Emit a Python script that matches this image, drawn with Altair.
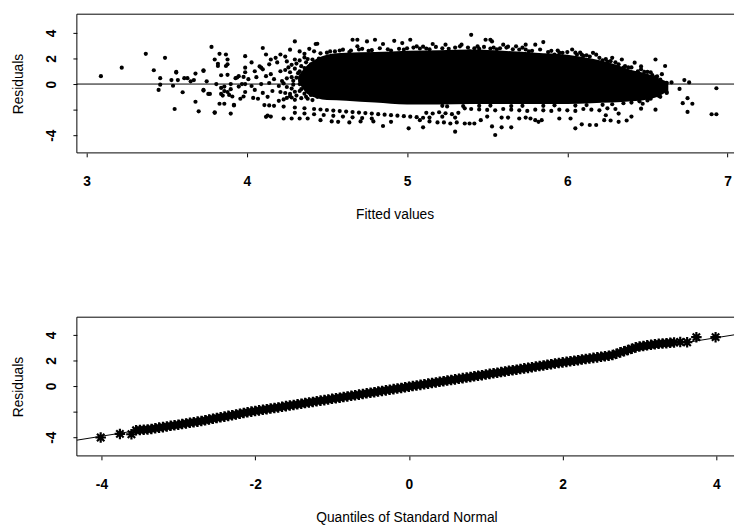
import altair as alt
import pandas as pd

FONT = "Liberation Sans"

# ---------------- top panel: residuals vs fitted values ----------------
sparse_left = [
    (3.09, 0.62), (3.22, 1.28), (3.37, 2.36), (3.49, 2.05), (3.42, 1.08), (3.45, -0.46),
    (3.46, 0.46), (3.46, -0.05), (3.53, 0.31), (3.54, -0.13), (3.55, -1.95), (3.56, 0.90),
    (3.57, 0.31), (3.60, -0.64), (3.61, 0.46), (3.63, 0.46), (3.65, 0.21), (3.67, 0.31),
    (3.68, -1.38), (3.68, 0.82), (3.70, -2.13), (3.73, 1.03), (3.73, -0.46), (3.75, 0.21),
    (3.77, -0.77), (3.78, 2.90), (3.80, -2.20), (3.80, 1.92), (3.81, 0.00), (3.82, 1.59),
    (3.83, -1.54), (3.83, 2.36), (3.84, 0.69), (3.84, -0.77), (3.86, -0.20), (3.86, -1.54),
    (3.87, 2.31), (3.87, 1.41), (3.88, 0.72), (3.89, -0.85), (3.90, -2.31), (3.90, 0.00),
    (3.91, -0.97), (3.92, -1.67), (3.93, 0.46), (3.95, -0.20), (3.96, -1.15), (3.98, 0.56),
    (3.99, 2.18), (3.99, 1.28), (3.99, 0.00), (3.98, -0.97), (3.56, 0.95), (3.73, 1.08),
    (3.73, -0.51), (3.76, -0.77), (3.82, 1.41), (3.88, 1.92), (3.88, 1.54), (3.92, -1.62),
    (3.94, 0.51), (3.80, -2.25), (3.84, -0.30), (3.86, -0.55), (3.88, -0.62), (3.90, -0.40),
    (3.85, -0.90),
]

mid_rows = [
    (4.10, 2.82), (4.12, 2.31), (4.15, 1.92), (4.21, 2.31), (4.27, 2.69), (4.30, 3.33),
    (4.36, 2.36), (4.43, 3.13), (4.42, 2.56), (4.09, 1.28),
    (4.18, 2.05), (4.24, 2.15), (4.33, 2.55), (4.39, 2.75),
    (4.03, 1.69), (4.08, 1.38), (4.14, 1.54), (4.19, 1.69), (4.25, 1.77), (4.30, 1.92),
    (4.36, 2.08), (4.41, 1.92), (4.33, 1.85), (4.38, 1.95), (4.45, 2.00),
    (3.99, 0.92), (4.05, 1.00), (4.10, 1.15), (4.15, 0.77), (4.21, 1.00), (4.27, 0.92),
    (4.33, 1.00), (4.39, 1.15), (4.44, 1.31), (4.24, 1.10), (4.30, 1.20), (4.36, 1.25),
    (4.42, 1.40),
    (3.95, 0.62), (4.01, 0.38), (4.06, 0.54), (4.12, 0.62), (4.17, 0.38), (4.22, 0.23),
    (4.28, 0.54), (4.34, 0.62), (4.41, 0.38), (4.25, 0.45), (4.31, 0.50), (4.37, 0.55),
    (4.43, 0.65),
    (3.97, 0.00), (4.03, -0.15), (4.09, 0.00), (4.14, 0.08), (4.20, -0.15), (4.25, -0.23),
    (4.33, 0.00), (4.39, -0.15), (4.45, 0.15), (4.23, 0.05), (4.29, -0.05), (4.36, 0.10),
    (4.42, -0.05),
    (3.99, -0.62), (4.05, -0.46), (4.10, -0.69), (4.16, -0.54), (4.21, -0.62), (4.27, -0.77),
    (4.33, -0.54), (4.39, -0.62), (4.24, -0.70), (4.30, -0.60), (4.36, -0.75), (4.42, -0.55),
    (4.04, -1.08), (4.07, -1.15), (4.13, -1.00), (4.20, -1.31), (4.25, -1.08), (4.30, -1.23),
    (4.38, -1.15), (4.44, -1.00), (4.23, -1.20), (4.28, -1.05), (4.34, -1.10), (4.41, -1.25),
    (4.12, -2.56), (4.15, -2.54), (4.23, -2.69), (4.28, -2.69), (4.33, -2.69), (4.38, -2.69),
    (4.13, -2.46),
    (4.28, 1.50), (4.31, 1.60), (4.34, 1.40), (4.37, 1.70), (4.40, 1.55), (4.28, -0.35),
    (4.31, -0.90), (4.34, -0.40), (4.37, -1.00), (4.40, -0.85), (4.29, 0.25), (4.32, 0.85),
    (4.35, 0.30), (4.38, 0.80), (4.26, 1.30), (4.27, -0.95),
]

band_a = [
    (4.11, -1.64), (4.14, -1.67), (4.17, -1.70), (4.23, -1.76), (4.30, -1.83), (4.36, -1.89),
    (4.42, -1.95), (4.46, -1.99), (4.50, -2.03), (4.54, -2.07), (4.58, -2.11), (4.62, -2.15),
    (4.66, -2.19), (4.70, -2.23), (4.74, -2.27), (4.78, -2.31), (4.82, -2.35), (4.86, -2.39),
    (4.90, -2.43), (4.94, -2.47), (4.98, -2.51), (5.02, -2.55), (5.06, -2.59), (5.10, -2.63),
    (4.30, -2.25), (4.36, -2.30), (4.42, -2.36), (4.48, -2.42), (4.54, -2.48), (4.60, -2.54),
    (4.66, -2.60), (4.72, -2.66), (4.78, -2.70),
]

band_b = [
    (5.12, -2.25), (5.16, -2.30), (5.20, -2.20), (5.24, -2.28), (5.28, -2.35), (5.32, -2.25),
    (5.14, -2.62), (5.22, -2.55), (5.30, -2.62),
    (5.36, -1.90), (5.40, -1.95), (5.45, -1.98), (5.50, -2.02), (5.55, -2.05), (5.60, -1.95),
    (5.65, -2.00), (5.70, -2.05), (5.75, -2.10), (5.80, -2.00), (5.85, -2.05), (5.90, -2.10),
    (5.95, -2.00), (6.00, -2.05), (6.05, -2.10), (6.10, -1.95), (6.15, -2.00), (6.20, -2.05),
    (6.25, -1.90), (6.30, -1.95),
    (5.25, -1.75), (5.45, -1.70), (5.65, -1.72), (5.85, -1.70), (6.05, -1.68), (6.22, -1.62),
    (6.35, -1.50), (6.45, -1.35),
    (5.22, -1.70), (5.35, -1.72), (5.52, -1.68), (5.72, -1.70), (5.92, -1.66), (6.12, -1.64),
    (6.28, -1.58), (6.40, -1.45), (6.50, -1.28), (6.58, -1.00), (6.62, -0.70),
]

upper_fringe = [
    (4.44, 3.15), (4.60, 2.69), (4.66, 3.46), (4.69, 3.46), (4.69, 2.95), (4.75, 3.33),
    (4.80, 3.46), (4.85, 3.13), (4.92, 3.38), (4.97, 3.20), (5.02, 3.46), (5.06, 2.95),
    (5.10, 2.92), (5.16, 3.13), (5.24, 3.08), (5.34, 3.08), (5.40, 3.85), (5.39, 2.56),
    (5.44, 2.95), (5.49, 3.46), (5.52, 3.46), (5.53, 3.33), (5.54, 2.85), (5.60, 3.08),
    (5.63, 2.92), (5.68, 2.95), (5.74, 3.08), (5.74, 2.70), (5.80, 3.08), (5.85, 3.28),
    (5.92, 2.31), (5.97, 2.44), (6.03, 2.70), (6.08, 2.46), (6.09, 2.30), (6.16, 2.44),
    (6.20, 2.05), (6.28, 2.05), (6.27, 1.79), (6.34, 1.92), (6.35, 1.28), (6.42, 1.67),
    (6.46, 1.38), (6.55, 1.92), (6.59, 0.77), (6.61, 1.41), (6.52, 0.92),
    (4.55, 2.55), (4.70, 2.70), (4.88, 2.72), (5.00, 2.80), (5.12, 2.78), (5.30, 2.85),
    (5.45, 2.75), (5.58, 2.80), (5.70, 2.70), (5.90, 2.60), (6.05, 2.45), (6.12, 2.25),
    (6.22, 1.85), (6.30, 1.70), (6.36, 1.40), (6.44, 1.00), (6.50, 0.95), (6.56, 0.60),
    (4.50, 2.45), (4.65, 2.62), (4.78, 2.65), (4.95, 2.75), (5.08, 2.78), (5.22, 2.80),
    (5.38, 2.85), (5.52, 2.78), (5.66, 2.72), (5.78, 2.60), (5.95, 2.45), (6.10, 2.20),
    (6.25, 1.75), (6.38, 1.30), (6.48, 0.95), (6.55, 0.55),
    (4.46, 2.40), (4.52, 2.55), (4.58, 2.62), (4.64, 2.50), (4.72, 2.75), (4.76, 2.60),
    (4.83, 2.80), (4.90, 2.62), (4.98, 2.70), (5.04, 2.85), (5.14, 2.72), (5.18, 2.90),
    (5.26, 2.75), (5.33, 2.95), (5.42, 2.80), (5.48, 2.90), (5.56, 2.72), (5.62, 2.85),
    (5.72, 2.85), (5.76, 2.55), (5.83, 2.70), (5.88, 2.50), (5.94, 2.62), (6.00, 2.50),
    (6.06, 2.30), (6.14, 2.15), (6.18, 2.30), (6.24, 1.95), (6.32, 1.55), (6.40, 1.30),
    (6.46, 1.15), (6.53, 0.70), (6.58, 0.35), (6.62, 0.10),
]

right_tail = [
    (6.65, 0.13), (6.70, -0.38), (6.73, 0.31), (6.76, 0.13), (6.72, -1.49), (6.75, -2.18),
    (6.75, -1.10), (6.78, -1.54), (6.93, -0.33), (6.90, -2.36), (6.93, -2.36),
    (6.55, 0.00), (6.60, -0.38), (6.57, -0.92), (6.62, -0.62), (6.52, -1.15), (6.47, -1.54),
    (6.55, -2.00), (6.46, -1.92), (6.40, -2.54), (6.32, -2.31), (6.24, -2.44),
]

lower_fringe = [
    (4.46, -2.82), (4.53, -2.92), (4.57, -2.95), (4.64, -3.00), (4.71, -2.92), (4.79, -2.92),
    (4.85, -3.28), (4.90, -2.95), (5.01, -3.46), (5.08, -2.82), (5.10, -3.38), (5.14, -2.92),
    (5.19, -3.00), (5.23, -3.00), (5.27, -3.08), (5.31, -3.00), (5.36, -3.08), (5.30, -3.72),
    (5.39, -3.08), (5.42, -3.08), (5.46, -2.82), (5.50, -2.54), (5.53, -3.31), (5.59, -3.38),
    (5.65, -3.38), (5.55, -3.98), (5.59, -2.62), (5.63, -2.62), (5.70, -2.69), (5.74, -2.62),
    (5.77, -2.69), (5.80, -2.82), (5.82, -2.95), (5.84, -2.82), (5.95, -2.69), (6.02, -2.69),
    (6.05, -3.46), (6.09, -3.15), (6.14, -3.20), (6.18, -3.20), (6.23, -2.82), (6.27, -2.85),
    (6.32, -2.95), (6.37, -2.85),
]

# envelope of the saturated (solid black) core of the cloud
core_fit = [4.32, 4.38, 4.44, 4.50, 4.62, 4.80, 5.00, 5.20, 5.40, 5.60, 5.80, 6.00, 6.15, 6.28, 6.40, 6.50, 6.58, 6.63]
core_hi = [0.60, 1.50, 2.00, 2.30, 2.45, 2.50, 2.60, 2.65, 2.70, 2.60, 2.45, 2.30, 2.00, 1.60, 1.10, 0.80, 0.40, 0.15]
core_lo = [0.20, -0.80, -1.10, -1.25, -1.30, -1.45, -1.60, -1.60, -1.55, -1.55, -1.55, -1.55, -1.50, -1.45, -1.35, -1.20, -0.90, -0.50]

# ---------------- bottom panel: normal QQ plot ----------------
qq_quant = [
    -3.55, -3.50, -3.45, -3.40, -3.35, -3.30, -3.25, -3.20, -3.15, -3.10, -3.05, -3.00,
    -2.95, -2.90, -2.85, -2.80, -2.75, -2.70, -2.65, -2.60, -2.55, -2.50, -2.45, -2.40,
    -2.35, -2.30, -2.25, -2.20, -2.15, -2.10, -2.05, -2.00, -1.95, -1.90, -1.85, -1.80,
    -1.75, -1.70, -1.65, -1.60, -1.55, -1.50, -1.45, -1.40, -1.35, -1.30, -1.25, -1.20,
    -1.15, -1.10, -1.05, -1.00, -0.95, -0.90, -0.85, -0.80, -0.75, -0.70, -0.65, -0.60,
    -0.55, -0.50, -0.45, -0.40, -0.35, -0.30, -0.25, -0.20, -0.15, -0.10, -0.05, 0.00,
    0.05, 0.10, 0.15, 0.20, 0.25, 0.30, 0.35, 0.40, 0.45, 0.50, 0.55, 0.60,
    0.65, 0.70, 0.75, 0.80, 0.85, 0.90, 0.95, 1.00, 1.05, 1.10, 1.15, 1.20,
    1.25, 1.30, 1.35, 1.40, 1.45, 1.50, 1.55, 1.60, 1.65, 1.70, 1.75, 1.80,
    1.85, 1.90, 1.95, 2.00, 2.05, 2.10, 2.15, 2.20, 2.25, 2.30, 2.35, 2.40,
    2.45, 2.50, 2.55, 2.60, 2.65, 2.70, 2.75, 2.80, 2.85, 2.90, 2.95, 3.00,
    3.05, 3.10, 3.15, 3.20, 3.25, 3.30, 3.35, 3.40, 3.45,
    -4.01, -3.76, -3.61, 3.53, 3.62, 3.74, 3.99,
]
qq_resid = [
    -3.46, -3.43, -3.41, -3.39, -3.35, -3.30, -3.25, -3.21, -3.16, -3.11, -3.06, -3.02,
    -2.97, -2.92, -2.87, -2.83, -2.78, -2.73, -2.67, -2.61, -2.56, -2.50, -2.44, -2.39,
    -2.33, -2.28, -2.22, -2.17, -2.11, -2.05, -2.00, -1.95, -1.90, -1.86, -1.81, -1.76,
    -1.71, -1.67, -1.62, -1.57, -1.52, -1.48, -1.43, -1.38, -1.33, -1.29, -1.24, -1.19,
    -1.14, -1.10, -1.05, -1.00, -0.95, -0.91, -0.86, -0.81, -0.76, -0.72, -0.67, -0.62,
    -0.57, -0.53, -0.48, -0.43, -0.38, -0.34, -0.29, -0.24, -0.19, -0.15, -0.10, -0.05,
    0.00, 0.05, 0.09, 0.14, 0.19, 0.24, 0.28, 0.33, 0.38, 0.43, 0.47, 0.52,
    0.57, 0.62, 0.66, 0.71, 0.76, 0.81, 0.85, 0.90, 0.95, 1.00, 1.04, 1.09,
    1.14, 1.19, 1.23, 1.28, 1.33, 1.38, 1.42, 1.47, 1.52, 1.57, 1.61, 1.66,
    1.71, 1.76, 1.80, 1.85, 1.89, 1.94, 1.98, 2.02, 2.07, 2.11, 2.16, 2.20,
    2.24, 2.29, 2.33, 2.37, 2.43, 2.53, 2.63, 2.72, 2.82, 2.92, 3.02, 3.09,
    3.13, 3.18, 3.22, 3.26, 3.30, 3.33, 3.35, 3.38, 3.40,
    -4.02, -3.74, -3.77, 3.44, 3.42, 3.82, 3.82,
]

qq_line_q = [-4.32, 4.23]
qq_line_r = [-4.23, 4.00]

top_x_ticks = [3, 4, 5, 6, 7]
bottom_x_ticks = [-4, -2, 0, 2, 4]
y_ticks = [-4, -2, 0, 2, 4]

# ---------------- build tables ----------------
pts = sparse_left + mid_rows + band_a + band_b + upper_fringe + right_tail + lower_fringe
top_df = pd.DataFrame(pts, columns=["fit", "res"])
core_df = pd.DataFrame({"fit": core_fit, "res": core_hi, "res2": core_lo})
zero_df = pd.DataFrame({"res": [0]})
qq_df = pd.DataFrame({"q": qq_quant, "res": qq_resid})
qqline_df = pd.DataFrame({"q": qq_line_q, "res": qq_line_r})
one_row = pd.DataFrame({"k": [0]})

W, H = 668, 141


def x_axis(title, values, title_x):
    return alt.Axis(
        values=values, title=title, grid=False, domain=False,
        ticks=True, tickSize=4, tickColor="black", tickWidth=1,
        labelExpr="'' + datum.value",
        labelFont=FONT, labelFontSize=14, labelColor="black", labelFontWeight="bold",
        labelAngle=0, labelAlign="center", labelBaseline="middle", labelPadding=25,
        labelFlush=False, labelOverlap=False,
        titleFont=FONT, titleFontSize=14, titleFontWeight="normal", titleColor="black",
        titleX=title_x, titleY=63, titleAlign="center", titleBaseline="middle", titleAngle=0,
    )


def y_axis():
    return alt.Axis(
        values=y_ticks, title="Residuals", grid=False, domain=False,
        ticks=True, tickSize=4, tickColor="black", tickWidth=1,
        labelExpr="datum.value == -2 ? '' : '' + datum.value",
        labelFont=FONT, labelFontSize=14, labelColor="black", labelFontWeight="bold",
        labelAngle=270, labelAlign="center", labelBaseline="middle", labelPadding=22,
        labelFlush=False, labelOverlap=False,
        titleFont=FONT, titleFontSize=14, titleFontWeight="normal", titleColor="black",
        titleX=-59, titleY=H / 2, titleAlign="center", titleBaseline="middle", titleAngle=270,
    )


def frame():
    # open box: left, top and bottom sides (the right side lies beyond the page edge)
    left = alt.Chart(one_row).mark_rule(color="black", strokeWidth=1).encode(
        x=alt.value(0), y=alt.value(0), y2=alt.value(H))
    topl = alt.Chart(one_row).mark_rule(color="black", strokeWidth=1).encode(
        x=alt.value(0), x2=alt.value(W), y=alt.value(0))
    botl = alt.Chart(one_row).mark_rule(color="black", strokeWidth=1).encode(
        x=alt.value(0), x2=alt.value(W), y=alt.value(H))
    return [left, topl, botl]


xs_top = alt.Scale(domain=[2.94, 7.04], nice=False, zero=False)
ys_top = alt.Scale(domain=[-5.38, 5.46], nice=False, zero=False)

xt = alt.X("fit:Q", scale=xs_top, axis=x_axis("Fitted values", top_x_ticks, 323))
yt = alt.Y("res:Q", scale=ys_top, axis=y_axis())

zero_rule = alt.Chart(zero_df).mark_rule(color="black", strokeWidth=1).encode(y=yt)
core = alt.Chart(core_df).mark_area(color="black", opacity=1, interpolate="monotone").encode(
    x=xt, y=yt, y2="res2:Q"
)
dots = alt.Chart(top_df).mark_circle(size=18, color="black", opacity=1).encode(x=xt, y=yt)
top = alt.layer(zero_rule, core, dots, *frame()).properties(width=W, height=H)

xs_bot = alt.Scale(domain=[-4.32, 4.23], nice=False, zero=False)
ys_bot = alt.Scale(domain=[-5.46, 5.38], nice=False, zero=False)
xb = alt.X("q:Q", scale=xs_bot, axis=x_axis("Quantiles of Standard Normal", bottom_x_ticks, 335))
yb = alt.Y("res:Q", scale=ys_bot, axis=y_axis())

asterisk = "M-1,0L1,0M0,-1L0,1M-0.7,-0.7L0.7,0.7M-0.7,0.7L0.7,-0.7"
qq_line = alt.Chart(qqline_df).mark_line(color="black", strokeWidth=1).encode(x=xb, y=yb)
qq_pts = alt.Chart(qq_df).mark_point(
    shape=asterisk, size=115, filled=False, color="black", strokeWidth=2.2, opacity=1
).encode(x=xb, y=yb)
bottom = alt.layer(qq_line, qq_pts, *frame()).properties(width=W, height=H)

chart = (
    alt.vconcat(top, bottom, spacing=167, bounds="flush")
    .properties(padding={"left": 4, "top": 1, "right": 0, "bottom": 0}, background="white")
    .configure_view(strokeWidth=0)
)

chart.save("out.html", embed_options={"renderer": "svg", "actions": False})
